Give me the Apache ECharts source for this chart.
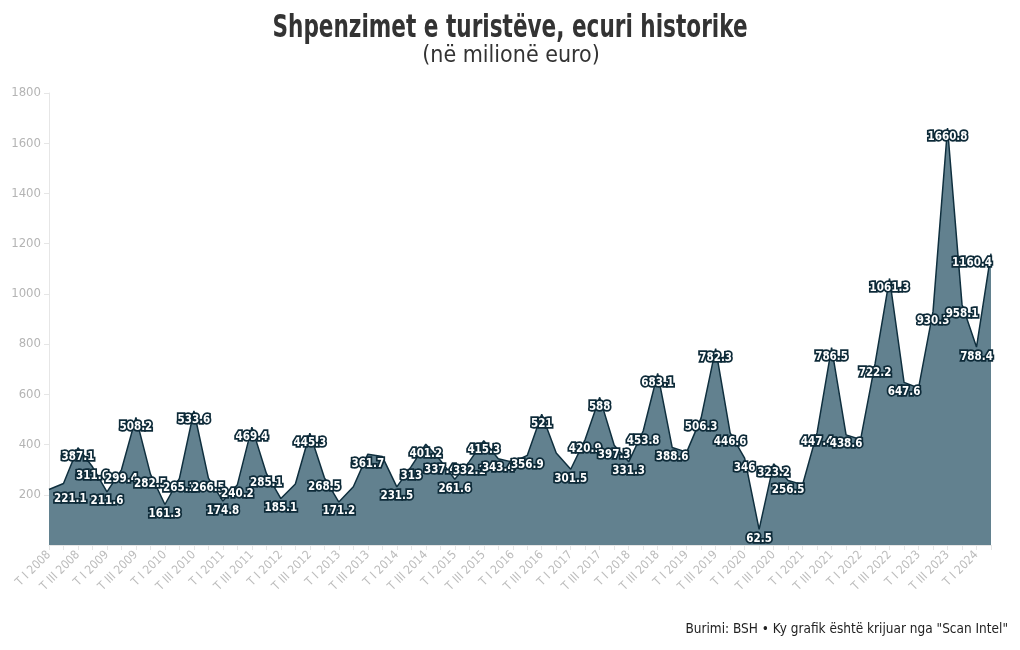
<!DOCTYPE html>
<html>
<head>
<meta charset="utf-8">
<script src="https://cdn.jsdelivr.net/npm/echarts@6/dist/echarts.min.js"></script>
<style>
html,body{margin:0;padding:0;background:#fff;}
#chart{width:1020px;height:650px;}
</style>
</head>
<body>
<div id="chart"></div>
<script>
// ---- data ----
var years = [2008,2009,2010,2011,2012,2013,2014,2015,2016,2017,2018,2019,2020,2021,2022,2023,2024];
var quarters = ['I','II','III','IV'];
var lastYearQuarters = 2;
var values = [
  221.1, 245, 387.1, 311.6,
  211.6, 299.4, 508.2, 282.5,
  161.3, 265.1, 533.6, 266.5,
  174.8, 240.2, 469.4, 285.1,
  185.1, 243, 445.3, 268.5,
  171.2, 232, 361.7, 352,
  231.5, 313, 401.2, 337.4,
  261.6, 332.1, 415.3, 343.4,
  330, 356.9, 521, 366,
  301.5, 420.9, 588, 397.3,
  331.3, 453.8, 683.1, 388.6,
  370, 506.3, 782.3, 446.6,
  346, 62.5, 323.2, 256.5,
  240, 447.4, 786.5, 438.6,
  420, 722.2, 1061.3, 647.6,
  625, 930.3, 1660.8, 958.1,
  788.4, 1160.4
];
var unlabeled = [1, 17, 21, 23, 32, 35, 44, 52, 56, 60];
var yTicks = [0, 200, 400, 600, 800, 1000, 1200, 1400, 1600, 1800];

var titleText = 'Shpenzimet e turistëve, ecuri historike';
var subtitleText = '(në milionë euro)';
var sourceText = 'Burimi: BSH \u2022 Ky grafik është krijuar nga "Scan Intel"';

// ---- build ----
var categories = [];
years.forEach(function (y, yi) {
  var n = (yi === years.length - 1) ? lastYearQuarters : 4;
  for (var q = 0; q < n; q++) categories.push('T ' + quarters[q] + ' ' + y);
});

var FONT = "'Liberation Sans Narrow', 'DejaVu Sans Condensed', 'Roboto', sans-serif";

var seriesData = values.map(function (v, i) {
  var item = { value: v };
  if (unlabeled.indexOf(i) >= 0) item.label = { show: false };
  if (i === 0) item.label = { show: true, align: 'left', offset: [5, 0] };
  if (i === values.length - 1) item.label = { show: true, align: 'right', offset: [1, 0] };
  return item;
});

var chart = echarts.init(document.getElementById('chart'), null, { renderer: 'canvas' });
chart.setOption({
  animation: false,
  backgroundColor: '#ffffff',
  graphic: [
    {
      type: 'text',
      x: 510, y: 13,
      scaleX: 0.75,
      style: {
        text: titleText,
        x: 0, y: 0,
        align: 'center',
        verticalAlign: 'top',
        fontFamily: FONT,
        fontSize: 32,
        fontWeight: 'bold',
        fill: '#333333'
      }
    },
    {
      type: 'text',
      x: 511, y: 45,
      style: {
        text: subtitleText,
        x: 0, y: 0,
        align: 'center',
        verticalAlign: 'top',
        fontFamily: FONT,
        fontSize: 23,
        fontWeight: 'normal',
        fill: '#333333'
      }
    },
    {
      type: 'text',
      x: 1008, y: 622,
      style: {
        text: sourceText,
        x: 0, y: 0,
        align: 'right',
        verticalAlign: 'top',
        fontFamily: FONT,
        fontSize: 13.5,
        fontWeight: 'normal',
        fill: '#222222'
      }
    }
  ],
  grid: { left: 49, right: 29, top: 93, bottom: 105, containLabel: false },
  xAxis: {
    type: 'category',
    data: categories,
    boundaryGap: false,
    axisLine: { show: true, lineStyle: { color: '#e6e6e6' } },
    axisTick: { show: true, interval: 0, length: 5, lineStyle: { color: '#e6e6e6' } },
    axisLabel: {
      interval: 1,
      rotate: 45,
      fontFamily: FONT,
      fontSize: 12,
      color: '#bcbcbc',
      margin: 8
    },
    splitLine: { show: false }
  },
  yAxis: {
    type: 'value',
    min: yTicks[0],
    max: yTicks[yTicks.length - 1],
    interval: 200,
    axisLine: { show: true, lineStyle: { color: '#e6e6e6' } },
    axisTick: { show: true, length: 5, lineStyle: { color: '#e6e6e6' } },
    axisLabel: {
      showMinLabel: false,
      fontFamily: FONT,
      fontSize: 13,
      color: '#b4b4b4',
      margin: 8,
      formatter: function (v) { return String(v); }
    },
    splitLine: { show: false }
  },
  series: [{
    type: 'line',
    data: seriesData,
    symbol: 'circle',
    symbolSize: 1,
    showSymbol: true,
    showAllSymbol: true,
    itemStyle: { color: 'rgba(0,0,0,0)', borderWidth: 0 },
    lineStyle: { color: '#0f2f3e', width: 1.5 },
    areaStyle: { color: '#62818f', opacity: 1 },
    label: {
      show: true,
      position: 'bottom',
      distance: 3,
      fontFamily: FONT,
      fontSize: 11.5,
      fontWeight: 'bold',
      color: '#ffffff',
      textBorderColor: '#0d2a38',
      textBorderWidth: 3.5
    },
    z: 2
  }]
});
</script>
</body>
</html>
